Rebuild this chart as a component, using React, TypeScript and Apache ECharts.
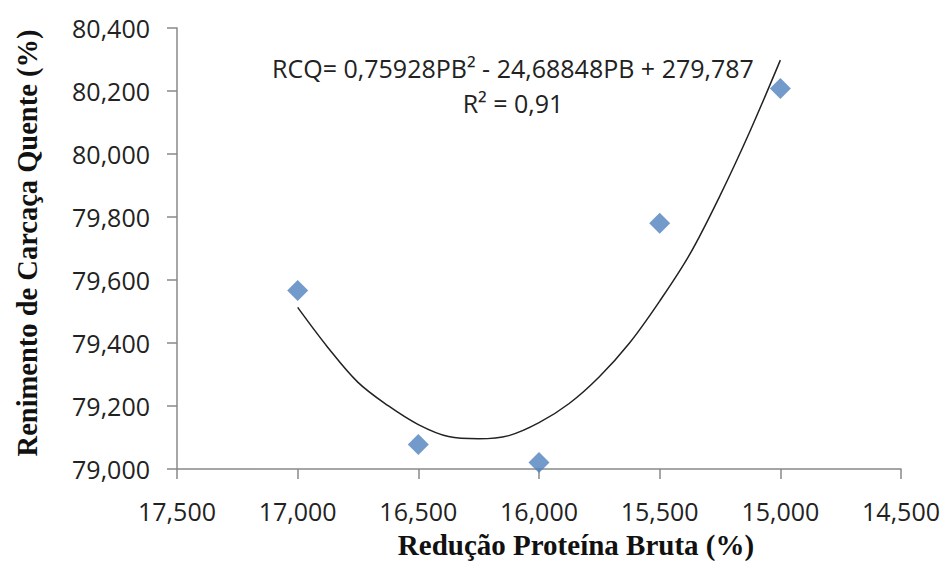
import React, { useEffect, useRef } from "react";
import * as echarts from "echarts";

// Observed data (x = Redução Proteína Bruta, y = Rendimento de Carcaça Quente)
const obsX = [17.0, 16.5, 16.0, 15.5, 15.0];
const obsY = [79.567, 79.078, 79.021, 79.78, 80.208];

// Trend curve values
const curveX = [17.0, 16.875, 16.75, 16.625, 16.5, 16.375, 16.25, 16.125, 16.0, 15.875, 15.75, 15.625, 15.5, 15.375, 15.25, 15.125, 15.0];
const curveY = [79.513, 79.386, 79.275, 79.201, 79.141, 79.103, 79.096, 79.106, 79.147, 79.208, 79.293, 79.4, 79.533, 79.682, 79.868, 80.074, 80.298];

const xTicks = [14.5, 17.5, 0.5]; // min, max, interval
const yTicks = [79.0, 80.4, 0.2];

const equationText = "RCQ= 0,75928PB² - 24,68848PB + 279,787";
const r2Text = "R² = 0,91";
const xTitle = "Redução Proteína Bruta (%)";
const yTitle = "Renimento de Carcaça Quente (%)";

const fmt = (v: number) => v.toFixed(3).replace(".", ",");

export default function App() {
  const ref = useRef<HTMLDivElement>(null);
  useEffect(() => {
    if (!ref.current) return;
    const chart = echarts.init(ref.current, undefined, { renderer: "svg" });
    const labelFont = { fontFamily: "Open Sans", fontSize: 25, color: "#222" };
    chart.setOption({
      animation: false,
      backgroundColor: "#fff",
      grid: { left: 177, right: 41, top: 28, bottom: 94 },
      xAxis: {
        type: "value",
        inverse: true,
        min: xTicks[0],
        max: xTicks[1],
        interval: xTicks[2],
        axisLine: { show: true, lineStyle: { color: "#888", width: 1.5 } },
        axisTick: { show: true, length: 10, lineStyle: { color: "#888", width: 1.5 } },
        splitLine: { show: false },
        axisLabel: { ...labelFont, margin: 29, formatter: fmt },
      },
      yAxis: {
        type: "value",
        min: yTicks[0],
        max: yTicks[1],
        interval: yTicks[2],
        axisLine: { show: true, lineStyle: { color: "#888", width: 1.5 } },
        axisTick: { show: true, length: 10, lineStyle: { color: "#888", width: 1.5 } },
        splitLine: { show: false },
        axisLabel: { ...labelFont, margin: 27, formatter: fmt },
      },
      series: [
        {
          type: "line",
          data: curveX.map((x, i) => [x, curveY[i]]),
          smooth: 0.35,
          showSymbol: false,
          lineStyle: { color: "#222", width: 1.5 },
          z: 2,
        },
        {
          type: "scatter",
          data: obsX.map((x, i) => [x, obsY[i]]),
          symbol: "diamond",
          symbolSize: [21, 21],
          itemStyle: { color: "#4F81BD" },
          z: 3,
        },
      ],
      graphic: [
        {
          type: "text",
          x: 513,
          y: 68,
          style: {
            text: equationText,
            fontFamily: "Open Sans",
            fontSize: 25,
            fill: "#222",
            textAlign: "center",
            textVerticalAlign: "middle",
          },
        },
        {
          type: "text",
          x: 513,
          y: 103,
          style: {
            text: r2Text,
            fontFamily: "Open Sans",
            fontSize: 25,
            fill: "#222",
            textAlign: "center",
            textVerticalAlign: "middle",
          },
        },
        {
          type: "text",
          x: 576,
          y: 545,
          style: {
            text: xTitle,
            fontFamily: "Liberation Serif",
            fontWeight: "bold",
            fontSize: 29,
            fill: "#111",
            textAlign: "center",
            textVerticalAlign: "middle",
          },
        },
        {
          type: "text",
          x: 27,
          y: 243,
          rotation: Math.PI / 2,
          style: {
            text: yTitle,
            fontFamily: "Liberation Serif",
            fontWeight: "bold",
            fontSize: 28.5,
            fill: "#111",
            textAlign: "center",
            textVerticalAlign: "middle",
          },
        },
      ],
    });
    return () => chart.dispose();
  }, []);
  return (
    <div
      ref={ref}
      style={{ position: "absolute", left: 0, top: 0, width: 943, height: 563 }}
    />
  );
}
